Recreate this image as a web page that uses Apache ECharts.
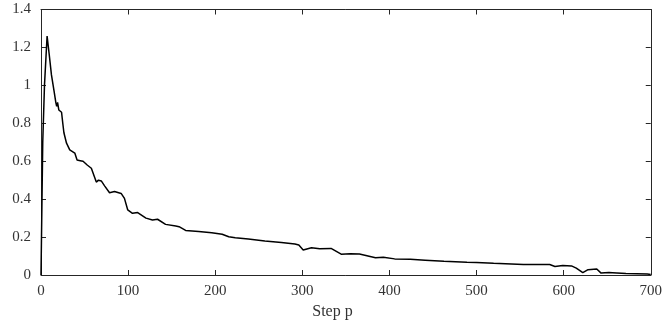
<!DOCTYPE html>
<html>
<head>
<meta charset="utf-8">
<script src="https://cdn.jsdelivr.net/npm/echarts@6/dist/echarts.min.js"></script>
<style>
html,body{margin:0;padding:0;background:#fff;}
#chart{width:665px;height:329px;}
</style>
</head>
<body>
<div id="chart"></div>
<script>
var steps = [0,1,2,4,7,9.5,12,15,17,18,19,20.5,22,23.6,25,26.3,29.3,33,35,38.8,41.4,45,48.3,53,57.8,59.6,63.5,66,69.2,73,78.7,84.4,92,95.8,99.6,101.5,105,107,111,113,120.5,128,133.8,143,154.7,158.5,166,181,196,208,215.5,223,238,257,276,291.5,296,301,310.5,320,333,335,344.6,355,365.6,384,393,406,424,441,462.6,489,500,519.6,553.7,584,590,599,609,614.5,622,628,638,643,652,656,671.5,696,700];
var values = [0,0.35,0.7,1.0,1.26,1.16,1.055,0.97,0.91,0.89,0.91,0.87,0.86,0.858,0.8,0.75,0.695,0.66,0.65,0.643,0.606,0.603,0.6,0.58,0.563,0.554,0.49,0.5,0.496,0.47,0.434,0.44,0.43,0.404,0.343,0.334,0.325,0.32,0.329,0.332,0.3,0.29,0.294,0.267,0.258,0.255,0.235,0.23,0.223,0.215,0.202,0.197,0.19,0.179,0.172,0.163,0.158,0.132,0.144,0.138,0.14,0.139,0.11,0.112,0.111,0.091,0.094,0.085,0.083,0.078,0.072,0.067,0.066,0.062,0.056,0.055,0.045,0.05,0.048,0.036,0.012,0.028,0.032,0.01,0.013,0.012,0.008,0.005,0.003];
var xLabel = "Step p";

var data = steps.map(function(s, i){ return [s, values[i]]; });
var font = "Liberation Serif";
var txt = "#333333";
var axisCol = "#262626";

function mkX(pos, showLabel){
  return {
    type:'value', gridIndex:0, position:pos, min:0, max:700, interval:100,
    axisLine:{show:true, onZero:false, lineStyle:{color:axisCol, width:1}},
    axisTick:{show:true, inside:true, length:5, lineStyle:{color:axisCol, width:1}},
    axisLabel:{show:showLabel, color:txt, fontFamily:font, fontSize:15, margin:9},
    splitLine:{show:false}
  };
}
function mkY(pos, showLabel){
  return {
    type:'value', gridIndex:0, position:pos, min:0, max:1.4, interval:0.2,
    axisLine:{show:true, onZero:false, lineStyle:{color:axisCol, width:1}},
    axisTick:{show:true, inside:true, length:5, lineStyle:{color:axisCol, width:1}},
    axisLabel:{show:showLabel, color:txt, fontFamily:font, fontSize:15, margin:10},
    splitLine:{show:false}
  };
}

var chart = echarts.init(document.getElementById('chart'), null, {renderer:'canvas'});
chart.setOption({
  animation:false,
  backgroundColor:'#fff',
  grid:{left:41, right:10, top:9.5, bottom:54, containLabel:false},
  xAxis:[mkX('bottom', true), mkX('top', false)],
  yAxis:[mkY('left', true), mkY('right', false)],
  graphic:[{
    type:'text', left:'center', top:304,
    style:{text:xLabel, fill:txt, font:'16px "Liberation Serif"'},
    x:-7
  }],
  series:[{
    type:'line', data:data, showSymbol:false, symbol:'none',
    lineStyle:{color:'#000', width:1.5}, xAxisIndex:0, yAxisIndex:0
  }]
});
</script>
</body>
</html>
